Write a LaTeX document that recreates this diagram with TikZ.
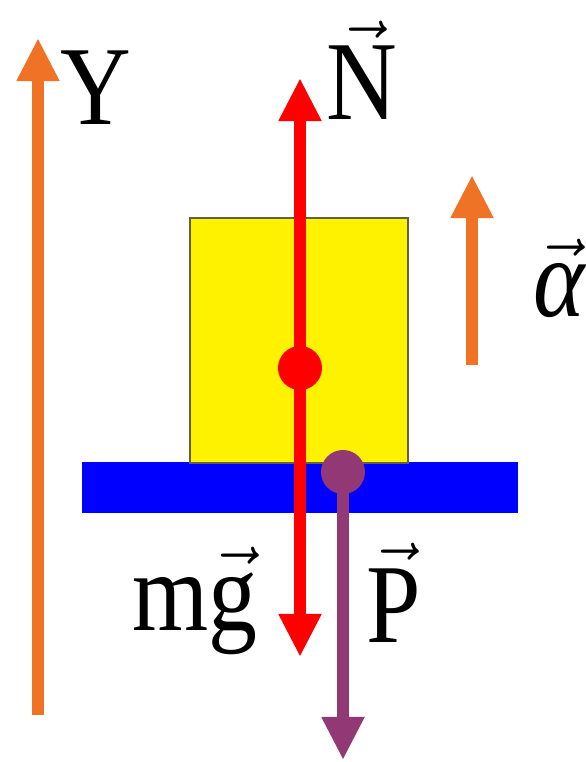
\documentclass[tikz,border=0pt]{standalone}
\usepackage{fontspec}
\setmainfont{Liberation Serif}[FakeStretch=0.87]
\usetikzlibrary{arrows.meta}
\definecolor{axisorange}{RGB}{240,114,36}
\definecolor{weightpurple}{RGB}{146,56,116}
\begin{document}
\begin{tikzpicture}[x=0.01cm,y=-0.01cm,
  force/.style={line width=0.12cm,-{Triangle[width=0.4cm,length=0.43cm]}},
  lbl/.style={font=\fontsize{32}{36}\selectfont,inner sep=0pt,anchor=base west},
  dot/.style={circle,inner sep=0pt,minimum size=0.44cm}]
\useasboundingbox (0,0) rectangle (585,762);
%Start with the floor and the block sitting on it,
% then the points where the forces act, and last the
% arrows with their labels.
\node[fill=blue,inner sep=0pt,minimum width=4.36cm,minimum height=0.51cm] (floor) at (300,487.5){};
\node[fill=yellow,draw=black!70!yellow,line width=0.8pt,inner sep=0pt,
      minimum width=2.18cm,minimum height=2.45cm] (block) at (299,340.5){};
% ends of the arrows
\coordinate (ybot) at (38,715);
\coordinate (ytop) at (38,38);
\coordinate (ntip) at (300,78);
\coordinate (mgtip) at (300,657);
\coordinate (ptip) at (343,760);
\coordinate (abot) at (472,365);
\coordinate (atop) at (472,175);
% forces
\draw[force,red] (300,368) -- (ntip);
\draw[force,red] (300,368) -- (mgtip);
\node[dot,fill=red] (cg) at (300,368){};
\node[dot,fill=weightpurple] (contact) at (343,472){};
\draw[force,weightpurple] (contact.center) -- (ptip);
% axis and acceleration
\draw[force,axisorange] (ybot) -- (ytop);
\draw[force,axisorange] (abot) -- (atop);
% labels
\node[lbl] (ylabel) at (60,125){Y};
\node[lbl] (nlabel) at (326,120){$\vec{\textrm{N}}$};
\node[lbl] (mglabel) at (132,630){m$\vec{\textrm{g}}$};
\node[lbl] (plabel) at (366,642){$\vec{\textrm{P}}$};
\node[lbl] (alabel) at (533,317){$\vec{\textit{α}}$};
\end{tikzpicture}
\end{document}
